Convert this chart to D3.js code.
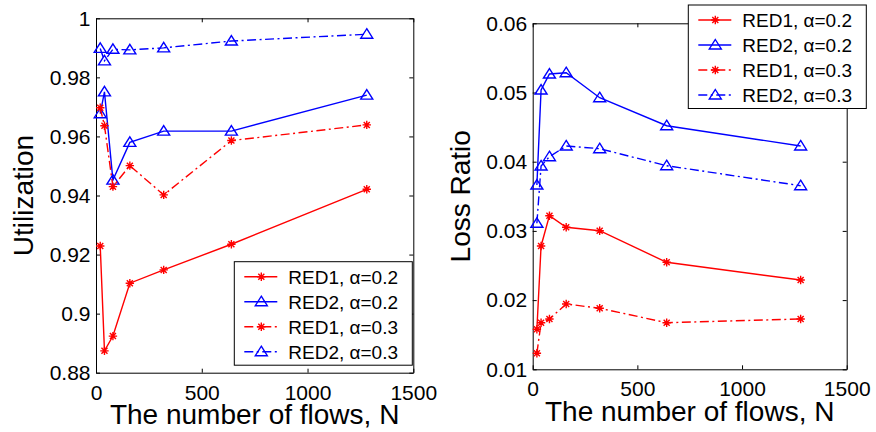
<!DOCTYPE html>
<html>
<head>
<meta charset="utf-8">
<script src="https://cdn.jsdelivr.net/npm/d3@7"></script>
<style>
  html, body { margin: 0; padding: 0; background: #fff; }
  svg { display: block; }
  text { font-family: "Liberation Sans", Arial, Helvetica, sans-serif; fill: #000; }
</style>
</head>
<body>
<svg id="chart" width="876" height="432"></svg>
<script>
// Number of flows N (x values shared by every curve)
const flows = [20, 40, 80, 160, 320, 640, 1280];

// Link utilization
const utilRed1A02 = [0.9229, 0.8874, 0.8924, 0.9103, 0.9148, 0.9235, 0.9421];
const utilRed2A02 = [0.9677, 0.9751, 0.9452, 0.9580, 0.9618, 0.9618, 0.9740];
const utilRed1A03 = [0.9697, 0.9636, 0.9430, 0.9501, 0.9402, 0.9586, 0.9639];
const utilRed2A03 = [0.9898, 0.9856, 0.9895, 0.9893, 0.9900, 0.9923, 0.9946];

// Packet loss ratio
const lossRed1A02 = [0.01578, 0.02782, 0.03220, 0.03052, 0.03003, 0.02546, 0.02290];
const lossRed2A02 = [0.03663, 0.05036, 0.05267, 0.05286, 0.04925, 0.04520, 0.04227];
const lossRed1A03 = [0.01231, 0.01673, 0.01727, 0.01944, 0.01882, 0.01673, 0.01727];
const lossRed2A03 = [0.03110, 0.03938, 0.04072, 0.04227, 0.04188, 0.03942, 0.03653];

const seriesNames = ["RED1, α=0.2", "RED2, α=0.2", "RED1, α=0.3", "RED2, α=0.3"];

const xTicks = [0, 500, 1000, 1500];
const utilTicks = [0.88, 0.9, 0.92, 0.94, 0.96, 0.98, 1];
const lossTicks = [0.01, 0.02, 0.03, 0.04, 0.05, 0.06];

const xLabel = "The number of flows, N";

// Line/marker style for each of the four curves (same order as seriesNames)
const styles = [
  { color: "#ff0000", dash: null, marker: "star" },
  { color: "#0000ff", dash: null, marker: "tri" },
  { color: "#ff0000", dash: "9,3.5,2,3.5", marker: "star" },
  { color: "#0000ff", dash: "9,3.5,2,3.5", marker: "tri" }
];

const svg = d3.select("#chart");
svg.append("rect").attr("width", 876).attr("height", 432).attr("fill", "#fff");

function drawMarker(g, kind, cx, cy, color) {
  if (kind === "star") {
    const r = 4.2, d = r * 0.72;
    g.append("path")
      .attr("d", `M${cx - r},${cy}L${cx + r},${cy}M${cx},${cy - r}L${cx},${cy + r}` +
                 `M${cx - d},${cy - d}L${cx + d},${cy + d}M${cx - d},${cy + d}L${cx + d},${cy - d}`)
      .attr("stroke", color).attr("stroke-width", 1.4).attr("fill", "none");
  } else {
    g.append("path")
      .attr("d", `M${cx},${cy - 5.5}L${cx + 6},${cy + 4}L${cx - 6},${cy + 4}Z`)
      .attr("stroke", color).attr("stroke-width", 1.4).attr("fill", "none")
      .attr("stroke-linejoin", "miter");
  }
}

function panel(opt) {
  const g = svg.append("g");
  const x = d3.scaleLinear().domain([0, 1500]).range([opt.left, opt.right]);
  const y = d3.scaleLinear().domain(opt.yDomain).range([opt.bottom, opt.top]);

  const axisStyle = sel => {
    sel.selectAll("path.domain").attr("stroke", "#000").attr("stroke-width", 1);
    sel.selectAll(".tick line").attr("stroke", "#000").attr("stroke-width", 1);
    sel.selectAll(".tick text").attr("font-size", 21)
      .attr("font-family", "'Liberation Sans', Arial, sans-serif").attr("fill", "#000");
  };

  g.append("g").attr("transform", `translate(0,${opt.bottom})`)
    .call(d3.axisBottom(x).tickValues(xTicks).tickFormat(d3.format("d"))
      .tickSizeInner(-4).tickSizeOuter(0).tickPadding(12))
    .call(axisStyle);
  g.append("g").attr("transform", `translate(0,${opt.top})`)
    .call(d3.axisTop(x).tickValues(xTicks).tickFormat("")
      .tickSizeInner(-4).tickSizeOuter(0))
    .call(axisStyle);
  g.append("g").attr("transform", `translate(${opt.left},0)`)
    .call(d3.axisLeft(y).tickValues(opt.yTicks).tickFormat(d => String(d))
      .tickSizeInner(-4).tickSizeOuter(0).tickPadding(5.5))
    .call(axisStyle);
  g.append("g").attr("transform", `translate(${opt.right},0)`)
    .call(d3.axisRight(y).tickValues(opt.yTicks).tickFormat("")
      .tickSizeInner(-4).tickSizeOuter(0))
    .call(axisStyle);

  // curves
  const line = d3.line().x((d, i) => x(flows[i])).y(d => y(d));
  opt.series.forEach((vals, si) => {
    const st = styles[si];
    const s = g.append("g");
    s.append("path").attr("d", line(vals))
      .attr("fill", "none").attr("stroke", st.color).attr("stroke-width", 1.4)
      .attr("stroke-dasharray", st.dash);
    vals.forEach((v, i) => drawMarker(s, st.marker, x(flows[i]), y(v), st.color));
  });

  // axis titles
  g.append("text")
    .attr("x", (opt.left + opt.right) / 2).attr("y", opt.bottom + 51.5)
    .attr("text-anchor", "middle").attr("font-size", 28).text(xLabel);
  g.append("text")
    .attr("transform", `translate(${opt.left - 63},${(opt.top + opt.bottom) / 2}) rotate(-90)`)
    .attr("text-anchor", "middle").attr("font-size", 28).text(opt.yLabel);

  // legend
  const lg = g.append("g").attr("transform", `translate(${opt.legend[0]},${opt.legend[1]})`);
  lg.append("rect").attr("x", 0).attr("y", 0).attr("width", 178).attr("height", 103.5)
    .attr("fill", "#fff").attr("stroke", "#000").attr("stroke-width", 1);
  seriesNames.forEach((name, si) => {
    const st = styles[si];
    const cy = 15 + si * 25;
    lg.append("line").attr("x1", 10).attr("x2", 43).attr("y1", cy).attr("y2", cy)
      .attr("stroke", st.color).attr("stroke-width", 1.4).attr("stroke-dasharray", st.dash);
    drawMarker(lg, st.marker, 27, cy, st.color);
    lg.append("text").attr("x", 54).attr("y", cy).attr("dy", "0.36em")
      .attr("font-size", 19).text(name);
  });
}

panel({
  left: 96, right: 413.3, top: 18.3, bottom: 372.7,
  yDomain: [0.88, 1], yTicks: utilTicks, yLabel: "Utilization",
  series: [utilRed1A02, utilRed2A02, utilRed1A03, utilRed2A03],
  legend: [234.3, 261.7]
});

panel({
  left: 532.7, right: 846.7, top: 23.3, bottom: 369.3,
  yDomain: [0.01, 0.06], yTicks: lossTicks, yLabel: "Loss Ratio",
  series: [lossRed1A02, lossRed2A02, lossRed1A03, lossRed2A03],
  legend: [688.3, 5]
});
</script>
</body>
</html>
